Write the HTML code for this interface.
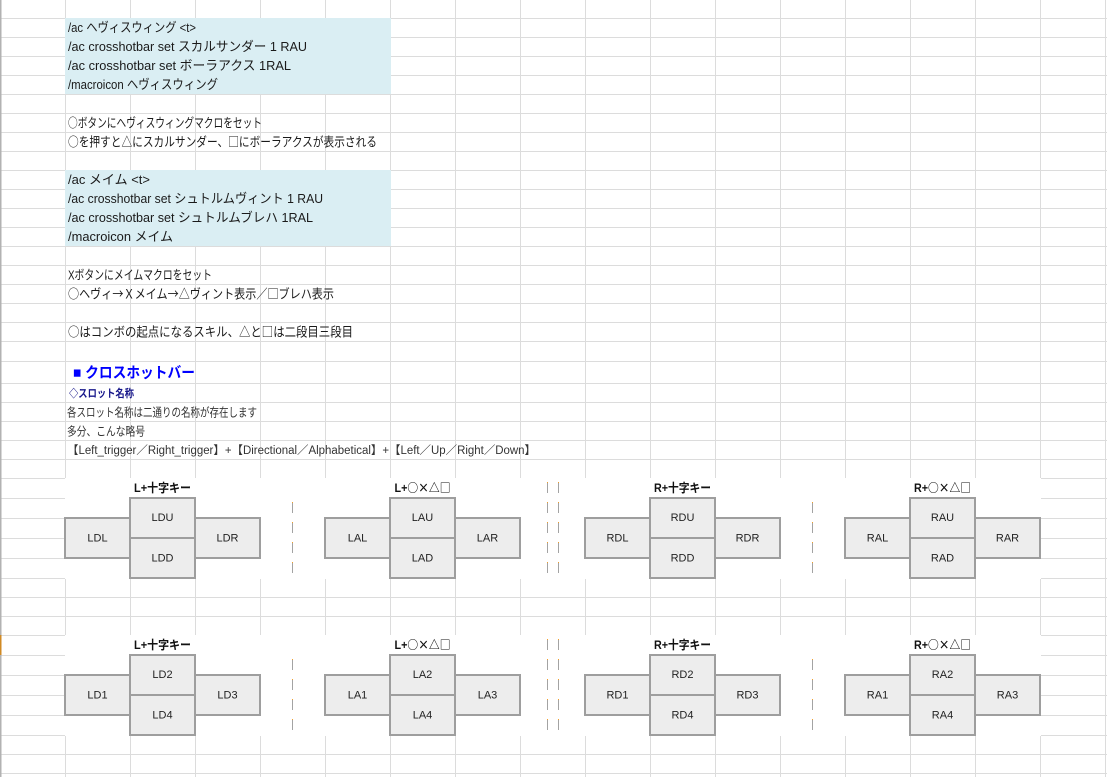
<!DOCTYPE html>
<html><head><meta charset="utf-8"><style>html,body{margin:0;padding:0;background:#fff;}svg{display:block;}.s{font-family:"Noto Sans CJK JP",sans-serif;}</style></head>
<body>
<svg width="1107" height="777" viewBox="0 0 1107 777" xmlns="http://www.w3.org/2000/svg" font-family="'Liberation Sans','Noto Sans CJK JP',sans-serif">
<rect width="1107" height="777" fill="#fff"/>
<g stroke="#dcdcdc" stroke-width="1" shape-rendering="crispEdges" fill="none">
<path d="M0 18.5H1107M0 37.5H1107M0 56.5H1107M0 75.5H1107M0 94.5H1107M0 113.5H1107M0 132.5H1107M0 151.5H1107M0 170.5H1107M0 189.5H1107M0 208.5H1107M0 227.5H1107M0 246.5H1107M0 265.5H1107M0 284.5H1107M0 303.5H1107M0 322.5H1107M0 341.5H1107M0 361.5H1107M0 383.5H1107M0 402.5H1107M0 421.5H1107M0 440.5H1107M0 459.5H1107M0 478.5H1107M0 498.5H1107M0 518.5H1107M0 538.5H1107M0 558.5H1107M0 578.5H1107M0 597.5H1107M0 616.5H1107M0 635.5H1107M0 655.5H1107M0 675.5H1107M0 695.5H1107M0 715.5H1107M0 735.5H1107M0 754.5H1107M0 773.5H1107"/>
<path d="M65.5 0V777M130.5 0V777M195.5 0V777M260.5 0V777M325.5 0V777M390.5 0V777M455.5 0V777M520.5 0V777M585.5 0V777M650.5 0V777M715.5 0V777M780.5 0V777M845.5 0V777M910.5 0V777M975.5 0V777M1040.5 0V777M1105.5 0V777"/>
</g>
<rect x="0" y="0" width="1.5" height="777" fill="#b2b2b2"/>
<rect x="0" y="635" width="1.5" height="20" fill="#d08a24"/>

<rect x="65" y="18" width="326" height="76" fill="#daeef3"/>
<rect x="65" y="170" width="326" height="76" fill="#daeef3"/>

<rect x="65" y="478" width="976" height="101" fill="#fff"/>
<rect x="65" y="635" width="976" height="101" fill="#fff"/>

<g font-size="13" fill="#1a1a1a">
<text x="68" y="32" textLength="128" lengthAdjust="spacingAndGlyphs">/ac ヘヴィスウィング &lt;t&gt;</text>
<text x="68" y="51" textLength="239" lengthAdjust="spacingAndGlyphs">/ac crosshotbar set スカルサンダー 1 RAU</text>
<text x="68" y="70" textLength="223" lengthAdjust="spacingAndGlyphs">/ac crosshotbar set ボーラアクス 1RAL</text>
<text x="68" y="89" textLength="150" lengthAdjust="spacingAndGlyphs">/macroicon ヘヴィスウィング</text>
<text x="68" y="127.5" textLength="194" lengthAdjust="spacingAndGlyphs"><tspan class="s">○</tspan>ボタンにヘヴィスウィングマクロをセット</text>
<text x="68" y="146.5" textLength="309" lengthAdjust="spacingAndGlyphs"><tspan class="s">○</tspan>を押すと<tspan class="s">△</tspan>にスカルサンダー、<tspan class="s">□</tspan>にボーラアクスが表示される</text>
<text x="68" y="184" textLength="82" lengthAdjust="spacingAndGlyphs">/ac メイム &lt;t&gt;</text>
<text x="68" y="203" textLength="255" lengthAdjust="spacingAndGlyphs">/ac crosshotbar set シュトルムヴィント 1 RAU</text>
<text x="68" y="222" textLength="245" lengthAdjust="spacingAndGlyphs">/ac crosshotbar set シュトルムブレハ 1RAL</text>
<text x="68" y="241" textLength="105" lengthAdjust="spacingAndGlyphs">/macroicon メイム</text>
<text x="68" y="279.5" textLength="144" lengthAdjust="spacingAndGlyphs">Xボタンにメイムマクロをセット</text>
<text x="68" y="298.5" textLength="266" lengthAdjust="spacingAndGlyphs"><tspan class="s">○</tspan>ヘヴィ<tspan class="s">→Ｘ</tspan>メイム<tspan class="s">→△</tspan>ヴィント表示／<tspan class="s">□</tspan>ブレハ表示</text>
<text x="68" y="336.5" textLength="285" lengthAdjust="spacingAndGlyphs"><tspan class="s">○</tspan>はコンボの起点になるスキル、<tspan class="s">△</tspan>と<tspan class="s">□</tspan>は二段目三段目</text>
</g>
<text x="73" y="377.5" font-size="15" font-weight="bold" fill="#0000ff" textLength="122" lengthAdjust="spacingAndGlyphs">■ クロスホットバー</text>
<text x="69" y="397" font-size="11" font-weight="bold" fill="#16168a" textLength="65" lengthAdjust="spacingAndGlyphs"><tspan class="s">◇</tspan>スロット名称</text>
<g font-size="12" fill="#333">
<text x="67" y="416.5" textLength="190" lengthAdjust="spacingAndGlyphs">各スロット名称は二通りの名称が存在します</text>
<text x="67" y="435.5" textLength="78" lengthAdjust="spacingAndGlyphs">多分、こんな略号</text>
<text x="67" y="454" font-size="11.5" textLength="469" lengthAdjust="spacingAndGlyphs">【Left_trigger／Right_trigger】+【Directional／Alphabetical】+【Left／Up／Right／Down】</text>
</g>

<g stroke-width="1" fill="none" shape-rendering="crispEdges">
<g stroke="#a3a3a3" stroke-dasharray="11 9">
<path d="M292.5 502V573M812.5 502V573M547.5 482V573M558.5 482V573"/>
<path d="M292.5 659V730M812.5 659V730M547.5 639V730M558.5 639V730"/>
</g>
<g stroke="#f0a030" stroke-dasharray="1 19">
<path d="M292.5 502V573M812.5 502V573M547.5 482V573M558.5 482V573"/>
<path d="M292.5 659V730M812.5 659V730M547.5 639V730M558.5 639V730"/>
</g>
</g>

<g fill="#ededed" stroke="#9e9e9e" stroke-width="2">
<rect x="65" y="518" width="65" height="40"/><rect x="195" y="518" width="65" height="40"/><rect x="130" y="498" width="65" height="40"/><rect x="130" y="538" width="65" height="40"/>
<rect x="325" y="518" width="65" height="40"/><rect x="455" y="518" width="65" height="40"/><rect x="390" y="498" width="65" height="40"/><rect x="390" y="538" width="65" height="40"/>
<rect x="585" y="518" width="65" height="40"/><rect x="715" y="518" width="65" height="40"/><rect x="650" y="498" width="65" height="40"/><rect x="650" y="538" width="65" height="40"/>
<rect x="845" y="518" width="65" height="40"/><rect x="975" y="518" width="65" height="40"/><rect x="910" y="498" width="65" height="40"/><rect x="910" y="538" width="65" height="40"/>
<rect x="65" y="675" width="65" height="40"/><rect x="195" y="675" width="65" height="40"/><rect x="130" y="655" width="65" height="40"/><rect x="130" y="695" width="65" height="40"/>
<rect x="325" y="675" width="65" height="40"/><rect x="455" y="675" width="65" height="40"/><rect x="390" y="655" width="65" height="40"/><rect x="390" y="695" width="65" height="40"/>
<rect x="585" y="675" width="65" height="40"/><rect x="715" y="675" width="65" height="40"/><rect x="650" y="655" width="65" height="40"/><rect x="650" y="695" width="65" height="40"/>
<rect x="845" y="675" width="65" height="40"/><rect x="975" y="675" width="65" height="40"/><rect x="910" y="655" width="65" height="40"/><rect x="910" y="695" width="65" height="40"/>
</g>

<g font-size="12" font-weight="bold" fill="#111" text-anchor="middle">
<text x="162.5" y="492" textLength="57" lengthAdjust="spacingAndGlyphs">L+十字キー</text>
<text x="422.5" y="492" textLength="56" lengthAdjust="spacingAndGlyphs">L+<tspan class="s">○×△□</tspan></text>
<text x="682.5" y="492" textLength="57" lengthAdjust="spacingAndGlyphs">R+十字キー</text>
<text x="942.5" y="492" textLength="57" lengthAdjust="spacingAndGlyphs">R+<tspan class="s">○×△□</tspan></text>
<text x="162.5" y="649" textLength="57" lengthAdjust="spacingAndGlyphs">L+十字キー</text>
<text x="422.5" y="649" textLength="56" lengthAdjust="spacingAndGlyphs">L+<tspan class="s">○×△□</tspan></text>
<text x="682.5" y="649" textLength="57" lengthAdjust="spacingAndGlyphs">R+十字キー</text>
<text x="942.5" y="649" textLength="57" lengthAdjust="spacingAndGlyphs">R+<tspan class="s">○×△□</tspan></text>
</g>

<g font-size="11" fill="#222" text-anchor="middle">
<text x="97.5" y="541.5">LDL</text><text x="162.5" y="521">LDU</text><text x="162.5" y="561.5">LDD</text><text x="227.5" y="541.5">LDR</text>
<text x="357.5" y="541.5">LAL</text><text x="422.5" y="521">LAU</text><text x="422.5" y="561.5">LAD</text><text x="487.5" y="541.5">LAR</text>
<text x="617.5" y="541.5">RDL</text><text x="682.5" y="521">RDU</text><text x="682.5" y="561.5">RDD</text><text x="747.5" y="541.5">RDR</text>
<text x="877.5" y="541.5">RAL</text><text x="942.5" y="521">RAU</text><text x="942.5" y="561.5">RAD</text><text x="1007.5" y="541.5">RAR</text>

<text x="97.5" y="698.5">LD1</text><text x="162.5" y="678">LD2</text><text x="162.5" y="718.5">LD4</text><text x="227.5" y="698.5">LD3</text>
<text x="357.5" y="698.5">LA1</text><text x="422.5" y="678">LA2</text><text x="422.5" y="718.5">LA4</text><text x="487.5" y="698.5">LA3</text>
<text x="617.5" y="698.5">RD1</text><text x="682.5" y="678">RD2</text><text x="682.5" y="718.5">RD4</text><text x="747.5" y="698.5">RD3</text>
<text x="877.5" y="698.5">RA1</text><text x="942.5" y="678">RA2</text><text x="942.5" y="718.5">RA4</text><text x="1007.5" y="698.5">RA3</text>
</g>
</svg>
</body></html>
